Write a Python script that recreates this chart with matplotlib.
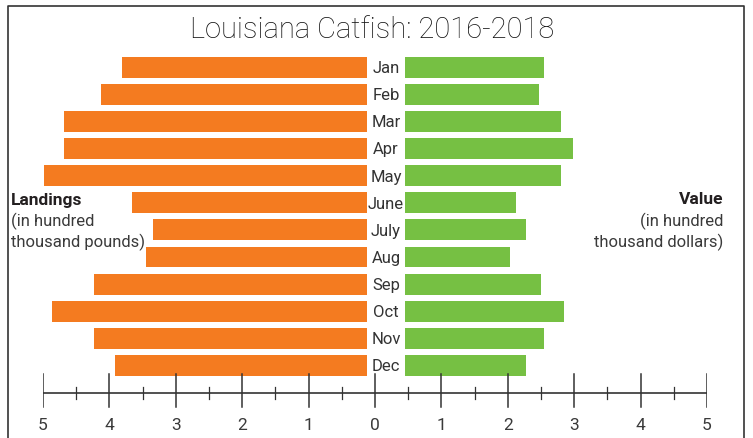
import matplotlib.pyplot as plt
from matplotlib.lines import Line2D
from matplotlib.transforms import blended_transform_factory
import numpy as np

months = ["Jan", "Feb", "Mar", "Apr", "May", "June",
          "July", "Aug", "Sep", "Oct", "Nov", "Dec"]
landings = [3.77, 4.09, 4.66, 4.66, 4.97, 3.62, 3.29, 3.40, 4.20, 4.85, 4.20, 3.88]
value = [2.29, 2.20, 2.57, 2.76, 2.57, 1.83, 1.99, 1.73, 2.24, 2.62, 2.29, 1.99]
ruler_labels = [5, 4, 3, 2, 1, 0, 1, 2, 3, 4, 5]

orange = "#F47B20"
green = "#76C043"
text_color = "#231F20"

W, H = 753, 438
plt.rcParams["font.family"] = ["Roboto", "DejaVu Sans"]
fig = plt.figure(figsize=(W / 100, H / 100), dpi=100)


def px_box(x0, y0, x1, y1):
    # pixel box (top-left origin) -> figure fraction [left, bottom, width, height]
    return [x0 / W, 1 - y1 / H, (x1 - x0) / W, (y1 - y0) / H]


# bars
y = np.arange(len(months))
ax_l = fig.add_axes(px_box(42, 53.8, 367, 378.9))
ax_r = fig.add_axes(px_box(405, 53.8, 709, 378.9))

ax_l.barh(y, landings, height=0.77, color=orange)
ax_l.set_xlim(5, 0)
ax_r.barh(y, value, height=0.77, color=green)
ax_r.set_xlim(0, 5)
for ax in (ax_l, ax_r):
    ax.set_ylim(11.5, -0.5)
    ax.axis("off")

# month labels in the gap
trans = blended_transform_factory(fig.transFigure, ax_l.transData)
for i, m in enumerate(months):
    ax_l.text(386 / W, i + 0.05, m, transform=trans, ha="center", va="center",
              fontsize=12, color="#333333", clip_on=False)

# ruler at the bottom
ax_x = fig.add_axes(px_box(43, 373, 707, 413))
ax_x.set_xlim(-5, 5)
ax_x.set_ylim(-1, 1)
ax_x.axis("off")
ax_x.axhline(0, color="#333333", lw=1.2)
for t in range(-5, 6):
    ax_x.plot([t, t], [-0.7, 0.95], color="#333333", lw=1.1)
for t in np.arange(-4.5, 5, 1.0):
    ax_x.plot([t, t], [-0.3, 0.3], color="#333333", lw=0.9)
for t, lab in zip(range(-5, 6), ruler_labels):
    ax_x.text(t, -1.65, str(lab), ha="center", va="center",
              fontsize=12.5, color="#3a3a3a", clip_on=False)

# title and side labels
fig.text(372 / W, 1 - 30 / H, "Louisiana Catfish: 2016-2018", ha="center", va="center",
         fontsize=21, fontweight="light", color="#111111")
fig.text(11 / W, 1 - 200 / H, "Landings", ha="left", va="center",
         fontsize=12.5, fontweight="bold", color=text_color)
fig.text(11 / W, 1 - 221 / H, "(in hundred", ha="left", va="center",
         fontsize=12, color="#3a3a3a")
fig.text(11 / W, 1 - 242 / H, "thousand pounds)", ha="left", va="center",
         fontsize=12, color="#3a3a3a")
fig.text(723 / W, 1 - 200 / H, "Value", ha="right", va="center",
         fontsize=12.5, fontweight="bold", color=text_color)
fig.text(723 / W, 1 - 221 / H, "(in hundred", ha="right", va="center",
         fontsize=12, color="#3a3a3a")
fig.text(723 / W, 1 - 242 / H, "thousand dollars)", ha="right", va="center",
         fontsize=12, color="#3a3a3a")

# frame open at the bottom
fx0, fx1, fy = 8 / W, 744 / W, 1 - 5.5 / H
fig.add_artist(Line2D([fx0, fx0, fx1, fx1], [0, fy, fy, 0],
                      transform=fig.transFigure, color="#333333", lw=1.2))

fig.savefig("out.png", dpi=100)
